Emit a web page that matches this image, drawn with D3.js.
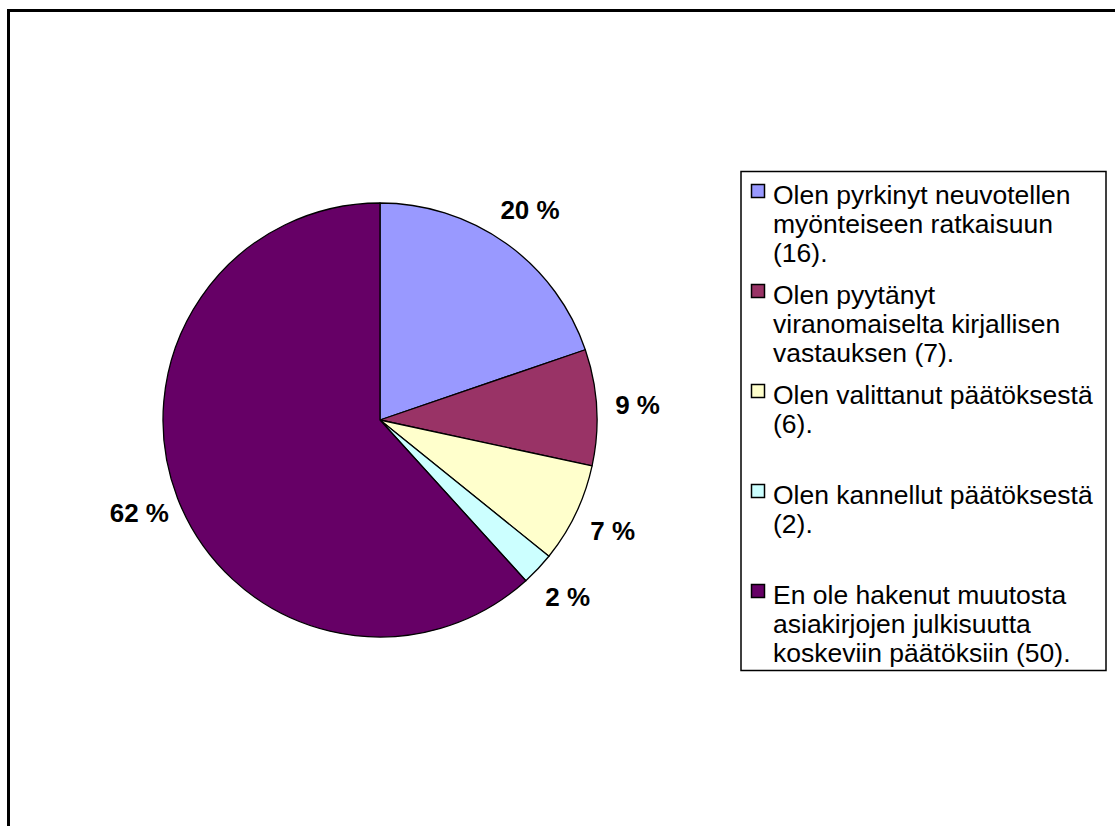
<html>
    <head>
       <style>

body {
    margin: 0;
    background: #fff;
}
svg {
    font-family: Arial, "Liberation Sans", sans-serif;
}
.slice {
    stroke: #000;
    stroke-width: 1.3px;
    stroke-linejoin: round;
}
.pct {
    font-size: 26px;
    font-weight: bold;
    fill: #000;
}
.legend text {
    font-size: 26.5px;
    fill: #000;
}

       </style>
    </head>
    <body>

        <svg></svg>

        <script src="https://cdn.jsdelivr.net/npm/d3@7"></script>

        <script>
// answers, counts and slice colours
var categories = [
    ["Olen pyrkinyt neuvotellen", "myönteiseen ratkaisuun", "(16)."],
    ["Olen pyytänyt", "viranomaiselta kirjallisen", "vastauksen (7)."],
    ["Olen valittanut päätöksestä", "(6)."],
    ["Olen kannellut päätöksestä", "(2)."],
    ["En ole hakenut muutosta", "asiakirjojen julkisuutta", "koskeviin päätöksiin (50)."]
];
var counts = [16, 7, 6, 2, 50];
var colors = ["#9999FF", "#993366", "#FFFFCC", "#CCFFFF", "#660066"];

var width = 1115,
    height = 826,
    cx = 380, cy = 420,
    radius = 217;

var svg = d3.select("svg")
    .attr("width", width)
    .attr("height", height);

// chart area frame (runs off the right and bottom edge)
svg.append("rect")
    .attr("x", 8.5)
    .attr("y", 10.5)
    .attr("width", 1200)
    .attr("height", 900)
    .attr("fill", "none")
    .attr("stroke", "#000")
    .attr("stroke-width", 3);

var total = d3.sum(counts);

var pie = d3.pie()
    .sort(null)
    .value(function(d) { return d; });

var arc = d3.arc()
    .innerRadius(0)
    .outerRadius(radius);

var labelArc = d3.arc()
    .innerRadius(258)
    .outerRadius(258);

var arcs = pie(counts);

var g = svg.append("g")
    .attr("transform", "translate(" + cx + "," + cy + ")");

g.selectAll("path")
    .data(arcs)
  .enter().append("path")
    .attr("class", "slice")
    .attr("d", arc)
    .attr("fill", function(d, i) { return colors[i]; });

g.selectAll("text")
    .data(arcs)
  .enter().append("text")
    .attr("class", "pct")
    .attr("text-anchor", "middle")
    .attr("dy", "0.35em")
    .attr("transform", function(d) {
      var c = labelArc.centroid(d);
      return "translate(" + c[0] + "," + c[1] + ")";
    })
    .text(function(d) { return Math.round(d.value / total * 100) + " %"; });

// legend
var legend = svg.append("g").attr("class", "legend");

legend.append("rect")
    .attr("x", 741)
    .attr("y", 171.5)
    .attr("width", 365)
    .attr("height", 499)
    .attr("fill", "#fff")
    .attr("stroke", "#000")
    .attr("stroke-width", 1.5);

var item = legend.selectAll("g.item")
    .data(categories)
  .enter().append("g")
    .attr("class", "item")
    .attr("transform", function(d, i) { return "translate(0," + (204 + i * 100) + ")"; });

item.append("rect")
    .attr("x", 751.5)
    .attr("y", -19.5)
    .attr("width", 13)
    .attr("height", 13)
    .attr("fill", function(d, i) { return colors[i]; })
    .attr("stroke", "#000")
    .attr("stroke-width", 1.5);

item.append("text")
    .attr("x", 773)
    .selectAll("tspan")
    .data(function(d) { return d; })
  .enter().append("tspan")
    .attr("x", 773)
    .attr("y", function(d, j) { return j * 29; })
    .text(function(d) { return d; });

        </script>
    </body>
</html>
